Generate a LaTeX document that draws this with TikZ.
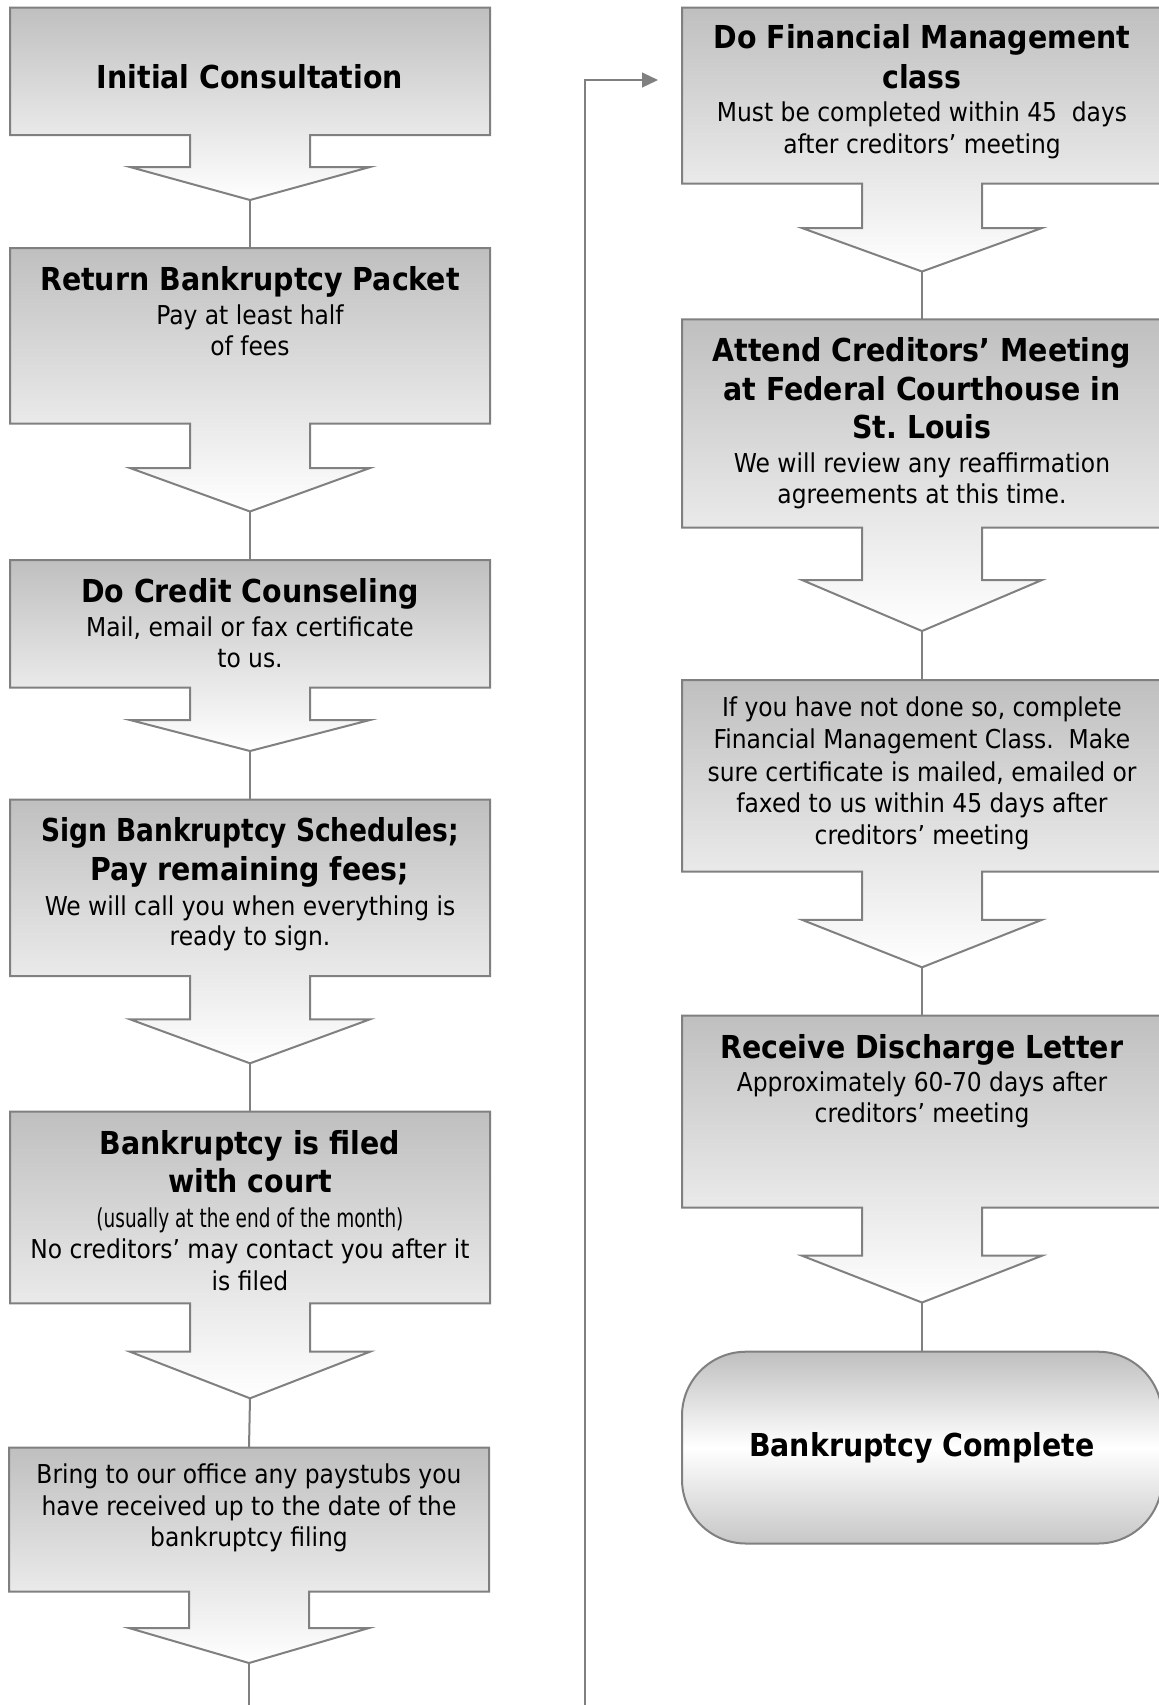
\documentclass[tikz,border=0pt]{standalone}
\usepackage{fontspec}
\setmainfont{DejaVu Sans Condensed}[BoldFont={DejaVu Sans Condensed Bold}]
\usetikzlibrary{arrows.meta}
\frenchspacing
\newcommand\callout[7]{% name, xl, xr, top, bottom, wing, tip
  \pgfmathsetmacro\cxx{(#2+#3)/2}
  \path[callbox] (#2,#4) -- (#3,#4) -- (#3,#5) -- (\cxx+60,#5) -- (\cxx+60,#6)
     -- (\cxx+120,#6) -- (\cxx,#7) -- (\cxx-120,#6) -- (\cxx-60,#6)
     -- (\cxx-60,#5) -- (#2,#5) -- cycle;
  \coordinate (#1-top) at (\cxx,#4);
  \coordinate (#1-tip) at (\cxx,#7);
}
\begin{document}
\begin{tikzpicture}[x=0.5pt,y=-0.5pt,
  callbox/.style={draw=black!50, line width=1pt, top color=black!25, bottom color=white},
  conn/.style={draw=black!50, line width=1pt},
  ttl/.style={anchor=base, inner sep=0pt, font=\fontsize{15.8pt}{19pt}\selectfont\bfseries},
  bdy/.style={anchor=base, inner sep=0pt, font=\fontsize{13pt}{16pt}\selectfont},
  term/.style={draw=black!50, line width=1pt, rounded corners=32pt,
    minimum width=240pt, minimum height=95.9pt, inner sep=0pt,
    top color=black!25, bottom color=black!22, middle color=white,
    font=\fontsize{15.8pt}{19pt}\selectfont\bfseries}]
\clip (0,0) rectangle (1159,1705);
\fill[white] (0,0) rectangle (1159,1705);

% left column
\callout{b1}{10}{490}{7.5}{135}{167}{200}
\callout{b2}{10}{490}{248}{423.5}{468}{511.5}
\callout{b3}{10}{490}{560}{687.5}{720}{751}
\callout{b4}{10}{490}{799.5}{976}{1019.3}{1063.3}
\callout{b5}{10}{490}{1111.7}{1303.3}{1351.7}{1398.3}
\callout{b6}{9}{489}{1447.5}{1591.7}{1628}{1663}
% right column
\callout{r1}{682}{1162}{7.5}{183.5}{228}{271.5}
\callout{r2}{682}{1162}{319.3}{527.7}{580}{631}
\callout{r3}{682}{1162}{680}{871.7}{919.8}{967.3}
\callout{r4}{682}{1162}{1015.7}{1207.7}{1255.7}{1302.5}
\node[term] (r5) at (922,1447.6) {Bankruptcy Complete};

% texts left
\node[ttl] (b1a) at (250,88) {Initial Consultation};
\node[ttl] (b2a) at (250,290) {Return Bankruptcy Packet};
\node[bdy] (b2b) at (250,324) {Pay at least half};
\node[bdy] (b2c) at (250,355) {of fees};
\node[ttl] (b3a) at (250,602.7) {Do Credit Counseling};
\node[bdy] (b3b) at (250,636) {Mail, email or fax certificate};
\node[bdy] (b3c) at (250,667.7) {to us.};
\node[ttl] (b4a) at (250,841.7) {\scalebox{0.93}[1]{Sign Bankruptcy Schedules;}};
\node[ttl] (b4b) at (250,880) {Pay remaining fees;};
\node[bdy] (b4c) at (250,915) {We will call you when everything is};
\node[bdy] (b4d) at (250,945) {ready to sign.};
\node[ttl] (b5a) at (250,1154) {Bankruptcy is filed};
\node[ttl] (b5b) at (250,1192.7) {with court};
\node[bdy] (b5c) at (250,1227) {\scalebox{0.79}[1]{(usually at the end of the month)}};
\node[bdy] (b5d) at (250,1258) {No creditors’ may contact you after it};
\node[bdy] (b5e) at (250,1290) {is filed};
\node[bdy] (b6a) at (249,1483) {Bring to our office any paystubs you};
\node[bdy] (b6b) at (249,1515) {have received up to the date of the};
\node[bdy] (b6c) at (249,1546.7) {bankruptcy filing};

% texts right
\node[ttl] (r1a) at (922,48.3) {Do Financial Management};
\node[ttl] (r1b) at (922,88.3) {class};
\node[bdy] (r1c) at (922,121.7) {Must be completed within 45\ \ days};
\node[bdy] (r1d) at (922,153.3) {after creditors’ meeting};
\node[ttl] (r2a) at (922,361.7) {Attend Creditors’ Meeting};
\node[ttl] (r2b) at (922,400) {at Federal Courthouse in};
\node[ttl] (r2c) at (922,438.3) {St. Louis};
\node[bdy] (r2d) at (922,472.7) {We will review any reaffirmation};
\node[bdy] (r2e) at (922,503.3) {agreements at this time.};
\node[bdy] (r3a) at (922,716.7) {If you have not done so, complete};
\node[bdy] (r3b) at (922,748.3) {Financial Management Class.\ \ Make};
\node[bdy] (r3c) at (922,781) {sure certificate is mailed, emailed or};
\node[bdy] (r3d) at (922,812.7) {faxed to us within 45 days after};
\node[bdy] (r3e) at (922,844) {creditors’ meeting};
\node[ttl] (r4a) at (922,1058.3) {Receive Discharge Letter};
\node[bdy] (r4b) at (922,1091.7) {Approximately 60-70 days after};
\node[bdy] (r4c) at (922,1122.7) {creditors’ meeting};

% connectors
\coordinate (b6-out) at (249,1712);
\coordinate (loopbot) at (585,1712);
\coordinate (loopend) at (658,80);
\draw[conn] (b1-tip) -- (b2-top);
\draw[conn] (b2-tip) -- (b3-top);
\draw[conn] (b3-tip) -- (b4-top);
\draw[conn] (b4-tip) -- (b5-top);
\draw[conn] (b5-tip) -- (b6-top);
\draw[conn] (b6-tip) -- (b6-out);
\draw[conn] (r1-tip) -- (r2-top);
\draw[conn] (r2-tip) -- (r3-top);
\draw[conn] (r3-tip) -- (r4-top);
\draw[conn] (r4-tip) -- (r5.north);
\draw[conn, -{Triangle[length=8pt,width=7.4pt]}] (loopbot) |- (loopend);
\end{tikzpicture}
\end{document}
